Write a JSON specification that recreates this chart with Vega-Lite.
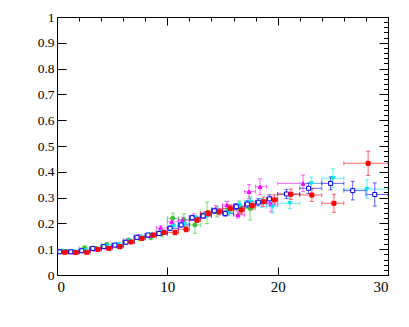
{
"$schema": "https://vega.github.io/schema/vega-lite/v6.json",
"width": 331, "height": 258,
"autosize": {"type": "none"},
"padding": {"left": 57, "top": 17, "right": 21, "bottom": 52},
"background": "white",
"config": {"view": {"stroke": "black", "strokeWidth": 1}},
"data": {"values": [
{"s":"green","x":0.5,"xlo":0,"xhi":1,"y":0.092,"ylo":0.086,"yhi":0.098},
{"s":"green","x":1.5,"xlo":1,"xhi":2,"y":0.090,"ylo":0.084,"yhi":0.096},
{"s":"green","x":2.5,"xlo":2,"xhi":3,"y":0.105,"ylo":0.098,"yhi":0.112},
{"s":"green","x":3.5,"xlo":3,"xhi":4,"y":0.103,"ylo":0.096,"yhi":0.110},
{"s":"green","x":4.5,"xlo":4,"xhi":5,"y":0.118,"ylo":0.111,"yhi":0.125},
{"s":"green","x":5.5,"xlo":5,"xhi":6,"y":0.113,"ylo":0.105,"yhi":0.121},
{"s":"green","x":6.5,"xlo":6,"xhi":7,"y":0.135,"ylo":0.127,"yhi":0.143},
{"s":"green","x":7.5,"xlo":7,"xhi":8,"y":0.142,"ylo":0.133,"yhi":0.151},
{"s":"green","x":8.5,"xlo":8,"xhi":9,"y":0.146,"ylo":0.137,"yhi":0.155},
{"s":"green","x":9.5,"xlo":9,"xhi":10,"y":0.160,"ylo":0.148,"yhi":0.172},
{"s":"green","x":10.5,"xlo":10,"xhi":11,"y":0.220,"ylo":0.200,"yhi":0.240},
{"s":"green","x":11.5,"xlo":11,"xhi":12,"y":0.215,"ylo":0.193,"yhi":0.237},
{"s":"green","x":12.5,"xlo":12,"xhi":13,"y":0.194,"ylo":0.162,"yhi":0.226},
{"s":"green","x":13.6,"xlo":13,"xhi":14,"y":0.241,"ylo":0.199,"yhi":0.283},
{"s":"green","x":14.5,"xlo":14,"xhi":15,"y":0.245,"ylo":0.225,"yhi":0.265},
{"s":"green","x":15.5,"xlo":15,"xhi":16,"y":0.252,"ylo":0.232,"yhi":0.272},
{"s":"green","x":16.5,"xlo":16,"xhi":17,"y":0.262,"ylo":0.237,"yhi":0.287},
{"s":"green","x":17.5,"xlo":17,"xhi":18,"y":0.258,"ylo":0.213,"yhi":0.303},
{"s":"magenta","x":0.4,"xlo":0,"xhi":1,"y":0.091,"ylo":0.086,"yhi":0.096},
{"s":"magenta","x":1.4,"xlo":1,"xhi":2,"y":0.089,"ylo":0.084,"yhi":0.094},
{"s":"magenta","x":2.4,"xlo":2,"xhi":3,"y":0.093,"ylo":0.088,"yhi":0.098},
{"s":"magenta","x":3.4,"xlo":3,"xhi":4,"y":0.100,"ylo":0.095,"yhi":0.105},
{"s":"magenta","x":4.4,"xlo":4,"xhi":5,"y":0.108,"ylo":0.102,"yhi":0.114},
{"s":"magenta","x":5.4,"xlo":5,"xhi":6,"y":0.115,"ylo":0.109,"yhi":0.121},
{"s":"magenta","x":6.4,"xlo":6,"xhi":7,"y":0.133,"ylo":0.126,"yhi":0.140},
{"s":"magenta","x":7.4,"xlo":7,"xhi":8,"y":0.150,"ylo":0.143,"yhi":0.157},
{"s":"magenta","x":8.4,"xlo":8,"xhi":9,"y":0.152,"ylo":0.144,"yhi":0.160},
{"s":"magenta","x":9.4,"xlo":9,"xhi":10,"y":0.182,"ylo":0.173,"yhi":0.191},
{"s":"magenta","x":10.4,"xlo":10,"xhi":11,"y":0.206,"ylo":0.194,"yhi":0.218},
{"s":"magenta","x":11.4,"xlo":11,"xhi":12,"y":0.212,"ylo":0.200,"yhi":0.224},
{"s":"magenta","x":12.4,"xlo":12,"xhi":13,"y":0.225,"ylo":0.213,"yhi":0.237},
{"s":"magenta","x":13.4,"xlo":13,"xhi":14,"y":0.233,"ylo":0.221,"yhi":0.245},
{"s":"magenta","x":14.4,"xlo":14,"xhi":15,"y":0.255,"ylo":0.241,"yhi":0.269},
{"s":"magenta","x":15.4,"xlo":15,"xhi":16,"y":0.271,"ylo":0.257,"yhi":0.285},
{"s":"magenta","x":16.4,"xlo":16,"xhi":17,"y":0.233,"ylo":0.221,"yhi":0.245},
{"s":"magenta","x":17.4,"xlo":17,"xhi":18,"y":0.323,"ylo":0.295,"yhi":0.351},
{"s":"magenta","x":18.4,"xlo":18,"xhi":19,"y":0.342,"ylo":0.311,"yhi":0.373},
{"s":"magenta","x":19.4,"xlo":19,"xhi":20,"y":0.275,"ylo":0.245,"yhi":0.305},
{"s":"magenta","x":22.3,"xlo":20,"xhi":24,"y":0.355,"ylo":0.323,"yhi":0.387},
{"s":"cyan","x":0.55,"xlo":0,"xhi":1,"y":0.092,"ylo":0.088,"yhi":0.096},
{"s":"cyan","x":1.55,"xlo":1,"xhi":2,"y":0.091,"ylo":0.087,"yhi":0.095},
{"s":"cyan","x":2.55,"xlo":2,"xhi":3,"y":0.096,"ylo":0.092,"yhi":0.100},
{"s":"cyan","x":3.55,"xlo":3,"xhi":4,"y":0.101,"ylo":0.097,"yhi":0.105},
{"s":"cyan","x":4.55,"xlo":4,"xhi":5,"y":0.112,"ylo":0.107,"yhi":0.117},
{"s":"cyan","x":5.55,"xlo":5,"xhi":6,"y":0.120,"ylo":0.115,"yhi":0.125},
{"s":"cyan","x":6.55,"xlo":6,"xhi":7,"y":0.132,"ylo":0.127,"yhi":0.137},
{"s":"cyan","x":7.55,"xlo":7,"xhi":8,"y":0.148,"ylo":0.142,"yhi":0.154},
{"s":"cyan","x":8.55,"xlo":8,"xhi":9,"y":0.156,"ylo":0.150,"yhi":0.162},
{"s":"cyan","x":9.55,"xlo":9,"xhi":10,"y":0.168,"ylo":0.161,"yhi":0.175},
{"s":"cyan","x":10.55,"xlo":10,"xhi":11,"y":0.190,"ylo":0.182,"yhi":0.198},
{"s":"cyan","x":11.55,"xlo":11,"xhi":12,"y":0.198,"ylo":0.189,"yhi":0.207},
{"s":"cyan","x":12.55,"xlo":12,"xhi":13,"y":0.222,"ylo":0.213,"yhi":0.231},
{"s":"cyan","x":13.55,"xlo":13,"xhi":14,"y":0.232,"ylo":0.222,"yhi":0.242},
{"s":"cyan","x":14.55,"xlo":14,"xhi":15,"y":0.248,"ylo":0.237,"yhi":0.259},
{"s":"cyan","x":15.55,"xlo":15,"xhi":16,"y":0.243,"ylo":0.232,"yhi":0.254},
{"s":"cyan","x":16.55,"xlo":16,"xhi":17,"y":0.270,"ylo":0.257,"yhi":0.283},
{"s":"cyan","x":17.55,"xlo":17,"xhi":18,"y":0.283,"ylo":0.268,"yhi":0.298},
{"s":"cyan","x":18.55,"xlo":18,"xhi":19,"y":0.279,"ylo":0.262,"yhi":0.296},
{"s":"cyan","x":19.55,"xlo":19,"xhi":20,"y":0.265,"ylo":0.240,"yhi":0.290},
{"s":"cyan","x":21.1,"xlo":20,"xhi":22,"y":0.278,"ylo":0.257,"yhi":0.299},
{"s":"cyan","x":23.05,"xlo":22,"xhi":24,"y":0.355,"ylo":0.330,"yhi":0.380},
{"s":"cyan","x":25.0,"xlo":24,"xhi":26,"y":0.375,"ylo":0.338,"yhi":0.412},
{"s":"cyan","x":28.1,"xlo":26,"xhi":30,"y":0.333,"ylo":0.297,"yhi":0.369},
{"s":"blue","x":0.25,"xlo":0,"xhi":1,"y":0.090,"ylo":0.085,"yhi":0.095},
{"s":"blue","x":1.25,"xlo":1,"xhi":2,"y":0.090,"ylo":0.086,"yhi":0.094},
{"s":"blue","x":2.25,"xlo":2,"xhi":3,"y":0.094,"ylo":0.090,"yhi":0.098},
{"s":"blue","x":3.25,"xlo":3,"xhi":4,"y":0.103,"ylo":0.099,"yhi":0.107},
{"s":"blue","x":4.25,"xlo":4,"xhi":5,"y":0.110,"ylo":0.106,"yhi":0.114},
{"s":"blue","x":5.25,"xlo":5,"xhi":6,"y":0.116,"ylo":0.111,"yhi":0.121},
{"s":"blue","x":6.25,"xlo":6,"xhi":7,"y":0.127,"ylo":0.122,"yhi":0.132},
{"s":"blue","x":7.25,"xlo":7,"xhi":8,"y":0.146,"ylo":0.140,"yhi":0.152},
{"s":"blue","x":8.25,"xlo":8,"xhi":9,"y":0.155,"ylo":0.149,"yhi":0.161},
{"s":"blue","x":9.25,"xlo":9,"xhi":10,"y":0.161,"ylo":0.154,"yhi":0.168},
{"s":"blue","x":10.25,"xlo":10,"xhi":11,"y":0.181,"ylo":0.173,"yhi":0.189},
{"s":"blue","x":11.25,"xlo":11,"xhi":12,"y":0.194,"ylo":0.186,"yhi":0.202},
{"s":"blue","x":12.25,"xlo":12,"xhi":13,"y":0.222,"ylo":0.213,"yhi":0.231},
{"s":"blue","x":13.25,"xlo":13,"xhi":14,"y":0.229,"ylo":0.220,"yhi":0.238},
{"s":"blue","x":14.25,"xlo":14,"xhi":15,"y":0.249,"ylo":0.239,"yhi":0.259},
{"s":"blue","x":15.25,"xlo":15,"xhi":16,"y":0.238,"ylo":0.228,"yhi":0.248},
{"s":"blue","x":16.25,"xlo":16,"xhi":17,"y":0.265,"ylo":0.253,"yhi":0.277},
{"s":"blue","x":17.25,"xlo":17,"xhi":18,"y":0.275,"ylo":0.262,"yhi":0.288},
{"s":"blue","x":18.25,"xlo":18,"xhi":19,"y":0.282,"ylo":0.268,"yhi":0.296},
{"s":"blue","x":19.25,"xlo":19,"xhi":20,"y":0.295,"ylo":0.279,"yhi":0.311},
{"s":"blue","x":20.8,"xlo":20,"xhi":22,"y":0.314,"ylo":0.296,"yhi":0.332},
{"s":"blue","x":22.8,"xlo":22,"xhi":24,"y":0.336,"ylo":0.316,"yhi":0.356},
{"s":"blue","x":24.8,"xlo":24,"xhi":26,"y":0.355,"ylo":0.330,"yhi":0.380},
{"s":"blue","x":26.8,"xlo":26,"xhi":28,"y":0.327,"ylo":0.291,"yhi":0.363},
{"s":"blue","x":28.8,"xlo":28,"xhi":30,"y":0.312,"ylo":0.267,"yhi":0.357},
{"s":"red","x":0.7,"xlo":0,"xhi":1,"y":0.088,"ylo":0.083,"yhi":0.093},
{"s":"red","x":1.7,"xlo":1,"xhi":2,"y":0.087,"ylo":0.082,"yhi":0.092},
{"s":"red","x":2.7,"xlo":2,"xhi":3,"y":0.088,"ylo":0.083,"yhi":0.093},
{"s":"red","x":3.7,"xlo":3,"xhi":4,"y":0.0995,"ylo":0.095,"yhi":0.104},
{"s":"red","x":4.7,"xlo":4,"xhi":5,"y":0.103,"ylo":0.098,"yhi":0.108},
{"s":"red","x":5.7,"xlo":5,"xhi":6,"y":0.110,"ylo":0.104,"yhi":0.116},
{"s":"red","x":6.7,"xlo":6,"xhi":7,"y":0.128,"ylo":0.122,"yhi":0.134},
{"s":"red","x":7.7,"xlo":7,"xhi":8,"y":0.142,"ylo":0.135,"yhi":0.149},
{"s":"red","x":8.7,"xlo":8,"xhi":9,"y":0.155,"ylo":0.148,"yhi":0.162},
{"s":"red","x":9.7,"xlo":9,"xhi":10,"y":0.165,"ylo":0.157,"yhi":0.173},
{"s":"red","x":10.7,"xlo":10,"xhi":11,"y":0.165,"ylo":0.156,"yhi":0.174},
{"s":"red","x":11.7,"xlo":11,"xhi":12,"y":0.177,"ylo":0.167,"yhi":0.187},
{"s":"red","x":12.7,"xlo":12,"xhi":13,"y":0.213,"ylo":0.203,"yhi":0.223},
{"s":"red","x":13.7,"xlo":13,"xhi":14,"y":0.239,"ylo":0.228,"yhi":0.250},
{"s":"red","x":14.7,"xlo":14,"xhi":15,"y":0.245,"ylo":0.233,"yhi":0.257},
{"s":"red","x":15.7,"xlo":15,"xhi":16,"y":0.258,"ylo":0.245,"yhi":0.271},
{"s":"red","x":16.7,"xlo":16,"xhi":17,"y":0.252,"ylo":0.237,"yhi":0.267},
{"s":"red","x":17.7,"xlo":17,"xhi":18,"y":0.269,"ylo":0.253,"yhi":0.285},
{"s":"red","x":18.7,"xlo":18,"xhi":19,"y":0.284,"ylo":0.266,"yhi":0.302},
{"s":"red","x":19.7,"xlo":19,"xhi":20,"y":0.291,"ylo":0.271,"yhi":0.311},
{"s":"red","x":21.2,"xlo":20,"xhi":22,"y":0.313,"ylo":0.293,"yhi":0.333},
{"s":"red","x":23.1,"xlo":22,"xhi":24,"y":0.310,"ylo":0.285,"yhi":0.335},
{"s":"red","x":25.1,"xlo":24,"xhi":26,"y":0.278,"ylo":0.243,"yhi":0.313},
{"s":"red","x":28.2,"xlo":26,"xhi":30,"y":0.433,"ylo":0.386,"yhi":0.480}
]},
"layer": [
{
"mark": {"type": "rule", "strokeWidth": 1, "opacity": 0.6, "clip": true},
"encoding": {
"x": {"field": "xlo", "type": "quantitative", "scale": {"domain": [0, 30], "nice": false, "zero": false},
 "axis": {"orient": "bottom", "values": [0, 10, 20, 30], "format": "d", "labelFont": "Liberation Serif", "labelFontSize": 15, "labelPadding": 12, "tickSize": -8, "labelColor": "black", "labelOverlap": {"expr": "false"}, "tickColor": "black", "domain": false, "grid": false, "title": null}},
"x2": {"field": "xhi"},
"y": {"field": "y", "type": "quantitative", "scale": {"domain": [0, 1], "nice": false, "zero": false},
 "axis": {"orient": "left", "values": [0,0.1,0.2,0.3,0.4,0.5,0.6,0.7,0.8,0.9,1], "format": "~g", "labelFont": "Liberation Serif", "labelFontSize": 13.5, "labelPadding": 12, "tickSize": -9, "labelColor": "black", "labelOverlap": {"expr": "false"}, "tickColor": "black", "domain": false, "grid": false, "title": null}},
"color": {"field": "s", "type": "nominal", "scale": {"domain": ["green","magenta","cyan","blue","red"], "range": ["#33c033","#ff00ff","#00e8f0","#0000ff","#ff0000"]}, "legend": null}
}
},
{
"mark": {"type": "rule", "strokeWidth": 1, "opacity": 0.6, "clip": true},
"encoding": {
"x": {"field": "x", "type": "quantitative", "axis": null},
"y": {"field": "ylo", "type": "quantitative", "axis": null},
"y2": {"field": "yhi"},
"color": {"field": "s", "type": "nominal", "legend": null}
}
},
{
"transform": [{"fold": ["xlo", "xhi"], "as": ["k", "cx"]}],
"mark": {"type": "point", "shape": "M0,-1L0,1", "size": 16, "filled": false, "strokeWidth": 1, "opacity": 0.6, "clip": true},
"encoding": {
"x": {"field": "cx", "type": "quantitative", "axis": null},
"y": {"field": "y", "type": "quantitative", "axis": null},
"color": {"field": "s", "type": "nominal", "legend": null}
}
},
{
"transform": [{"fold": ["ylo", "yhi"], "as": ["k", "cy"]}],
"mark": {"type": "point", "shape": "M-1,0L1,0", "size": 16, "filled": false, "strokeWidth": 1, "opacity": 0.6, "clip": true},
"encoding": {
"x": {"field": "x", "type": "quantitative", "axis": null},
"y": {"field": "cy", "type": "quantitative", "axis": null},
"color": {"field": "s", "type": "nominal", "legend": null}
}
},
{
"mark": {"type": "point", "filled": true, "strokeWidth": 1, "opacity": 1, "size": 16, "clip": true},
"encoding": {
"x": {"field": "x", "type": "quantitative", "axis": null},
"y": {"field": "y", "type": "quantitative", "axis": null},
"shape": {"field": "s", "type": "nominal", "scale": {"domain": ["green","magenta","cyan","blue","red"], "range": ["circle","triangle-up","triangle-down","square","square"]}, "legend": null},
"fill": {"field": "s", "type": "nominal", "scale": {"domain": ["green","magenta","cyan","blue","red"], "range": ["#33c033","#ff00ff","#00e8f0","#ffffff","#ff0000"]}, "legend": null},
"stroke": {"field": "s", "type": "nominal", "scale": {"domain": ["green","magenta","cyan","blue","red"], "range": ["#33c033","#ff00ff","#00e8f0","#0000ff","#ff0000"]}, "legend": null}
}
},
{
"mark": {"type": "point", "opacity": 0},
"encoding": {
"x": {"field": "x", "type": "quantitative", "scale": {"domain": [0, 30], "nice": false, "zero": false},
 "axis": {"orient": "top", "values": [0,2,4,6,8,10,12,14,16,18,20,22,24,26,28,30], "labels": false, "tickColor": "black", "domain": false, "grid": false, "title": null,
  "tickSize": {"condition": {"test": "datum.value % 10 == 0", "value": -8}, "value": -4}}},
"y": {"field": "y", "type": "quantitative", "scale": {"domain": [0, 1], "nice": false, "zero": false},
 "axis": {"orient": "right", "values": [0,0.02,0.04,0.06,0.08,0.1,0.12,0.14,0.16,0.18,0.2,0.22,0.24,0.26,0.28,0.3,0.32,0.34,0.36,0.38,0.4,0.42,0.44,0.46,0.48,0.5,0.52,0.54,0.56,0.58,0.6,0.62,0.64,0.66,0.68,0.7,0.72,0.74,0.76,0.78,0.8,0.82,0.84,0.86,0.88,0.9,0.92,0.94,0.96,0.98,1], "labels": false, "tickColor": "black", "domain": false, "grid": false, "title": null,
  "tickSize": {"condition": {"test": "abs(datum.value*10 - round(datum.value*10)) < 0.001", "value": -9}, "value": -4.5}}}
}
}
],
"resolve": {"axis": {"x": "independent", "y": "independent"}}
}
